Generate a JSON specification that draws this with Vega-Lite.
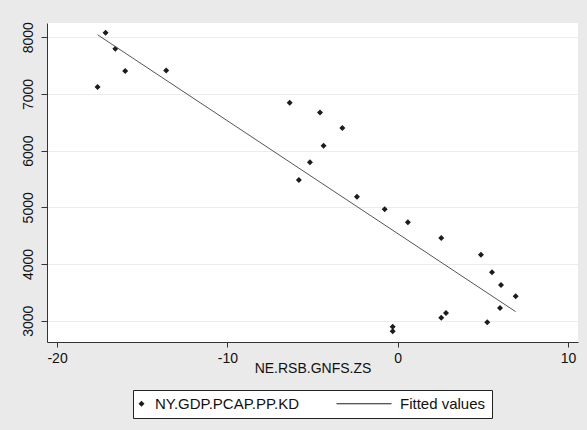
{
 "$schema": "https://vega.github.io/schema/vega-lite/v6.json",
 "width": 531, "height": 319,
 "autosize": "none",
 "padding": {"left": 47, "top": 23, "right": 9, "bottom": 88},
 "background": "#eaeaea",
 "config": {"view": {"fill": "white", "stroke": null}, "font": "Liberation Sans"},
 "datasets": {
  "points": [
   {"x": -17.62, "y": 7122, "series": "NY.GDP.PCAP.PP.KD"},
   {"x": -17.15, "y": 8079, "series": "NY.GDP.PCAP.PP.KD"},
   {"x": -16.58, "y": 7797, "series": "NY.GDP.PCAP.PP.KD"},
   {"x": -16.0, "y": 7404, "series": "NY.GDP.PCAP.PP.KD"},
   {"x": -13.59, "y": 7416, "series": "NY.GDP.PCAP.PP.KD"},
   {"x": -6.34, "y": 6845, "series": "NY.GDP.PCAP.PP.KD"},
   {"x": -5.80, "y": 5481, "series": "NY.GDP.PCAP.PP.KD"},
   {"x": -4.56, "y": 6675, "series": "NY.GDP.PCAP.PP.KD"},
   {"x": -3.25, "y": 6399, "series": "NY.GDP.PCAP.PP.KD"},
   {"x": -4.35, "y": 6086, "series": "NY.GDP.PCAP.PP.KD"},
   {"x": -5.15, "y": 5794, "series": "NY.GDP.PCAP.PP.KD"},
   {"x": -2.39, "y": 5187, "series": "NY.GDP.PCAP.PP.KD"},
   {"x": -0.76, "y": 4965, "series": "NY.GDP.PCAP.PP.KD"},
   {"x": 0.60, "y": 4735, "series": "NY.GDP.PCAP.PP.KD"},
   {"x": 2.56, "y": 4458, "series": "NY.GDP.PCAP.PP.KD"},
   {"x": 4.89, "y": 4164, "series": "NY.GDP.PCAP.PP.KD"},
   {"x": 5.54, "y": 3853, "series": "NY.GDP.PCAP.PP.KD"},
   {"x": 6.07, "y": 3630, "series": "NY.GDP.PCAP.PP.KD"},
   {"x": 6.93, "y": 3430, "series": "NY.GDP.PCAP.PP.KD"},
   {"x": 6.01, "y": 3224, "series": "NY.GDP.PCAP.PP.KD"},
   {"x": 2.84, "y": 3136, "series": "NY.GDP.PCAP.PP.KD"},
   {"x": 2.56, "y": 3053, "series": "NY.GDP.PCAP.PP.KD"},
   {"x": 5.26, "y": 2972, "series": "NY.GDP.PCAP.PP.KD"},
   {"x": -0.29, "y": 2894, "series": "NY.GDP.PCAP.PP.KD"},
   {"x": -0.29, "y": 2813, "series": "NY.GDP.PCAP.PP.KD"}
  ],
  "fit": [
   {"x": -17.62, "y": 8044, "series": "Fitted values"},
   {"x": 6.93, "y": 3159, "series": "Fitted values"}
  ]
 },
 "layer": [
  {
   "data": {"name": "points"},
   "mark": {"type": "point", "filled": true, "opacity": 1, "color": "#1c1c1c", "size": 36},
   "encoding": {
    "x": {"field": "x", "type": "quantitative",
     "scale": {"domain": [-20.59, 10.59], "nice": false, "zero": false},
     "axis": {"values": [-20, -10, 0, 10], "labelExpr": "datum.value + ''", "title": "NE.RSB.GNFS.ZS", "grid": false,
      "domainColor": "#333", "tickColor": "#333", "tickSize": 5, "labelFontSize": 14, "labelColor": "#111",
      "titleFontSize": 14, "titleFontWeight": "normal", "titleColor": "#111", "labelPadding": 4, "titlePadding": -4, "labelFlush": false}},
    "y": {"field": "y", "type": "quantitative",
     "scale": {"domain": [2624, 8252], "nice": false, "zero": false},
     "axis": {"values": [3000, 4000, 5000, 6000, 7000, 8000], "labelExpr": "datum.value + ''", "title": null, "grid": true, "gridColor": "#ececec",
      "domainColor": "#333", "tickColor": "#333", "tickSize": 6, "labelAngle": 270, "labelAlign": "center",
      "labelBaseline": "bottom", "labelPadding": 6, "labelFontSize": 14, "labelColor": "#111", "labelFlush": false}},
    "shape": {"field": "series", "type": "nominal",
     "scale": {"domain": ["NY.GDP.PCAP.PP.KD", "Fitted values"], "range": ["diamond", "M-16.67,-0.18H1.67V0.18H-16.67Z"]},
     "legend": {"title": null, "orient": "none", "legendX": 86, "legendY": 367, "direction": "horizontal",
      "fillColor": "white", "strokeColor": "#222", "padding": 6, "labelFontSize": 15, "labelColor": "#111",
      "symbolSize": 36, "symbolFillColor": "#1c1c1c", "symbolOffset": -5,
      "labelOffset": 6, "columnPadding": 34, "labelLimit": 300, "cornerRadius": 0}}
   }
  },
  {
   "data": {"name": "fit"},
   "mark": {"type": "line", "color": "#555", "strokeWidth": 1},
   "encoding": {
    "x": {"field": "x", "type": "quantitative"},
    "y": {"field": "y", "type": "quantitative"}
   }
  }
 ]
}
